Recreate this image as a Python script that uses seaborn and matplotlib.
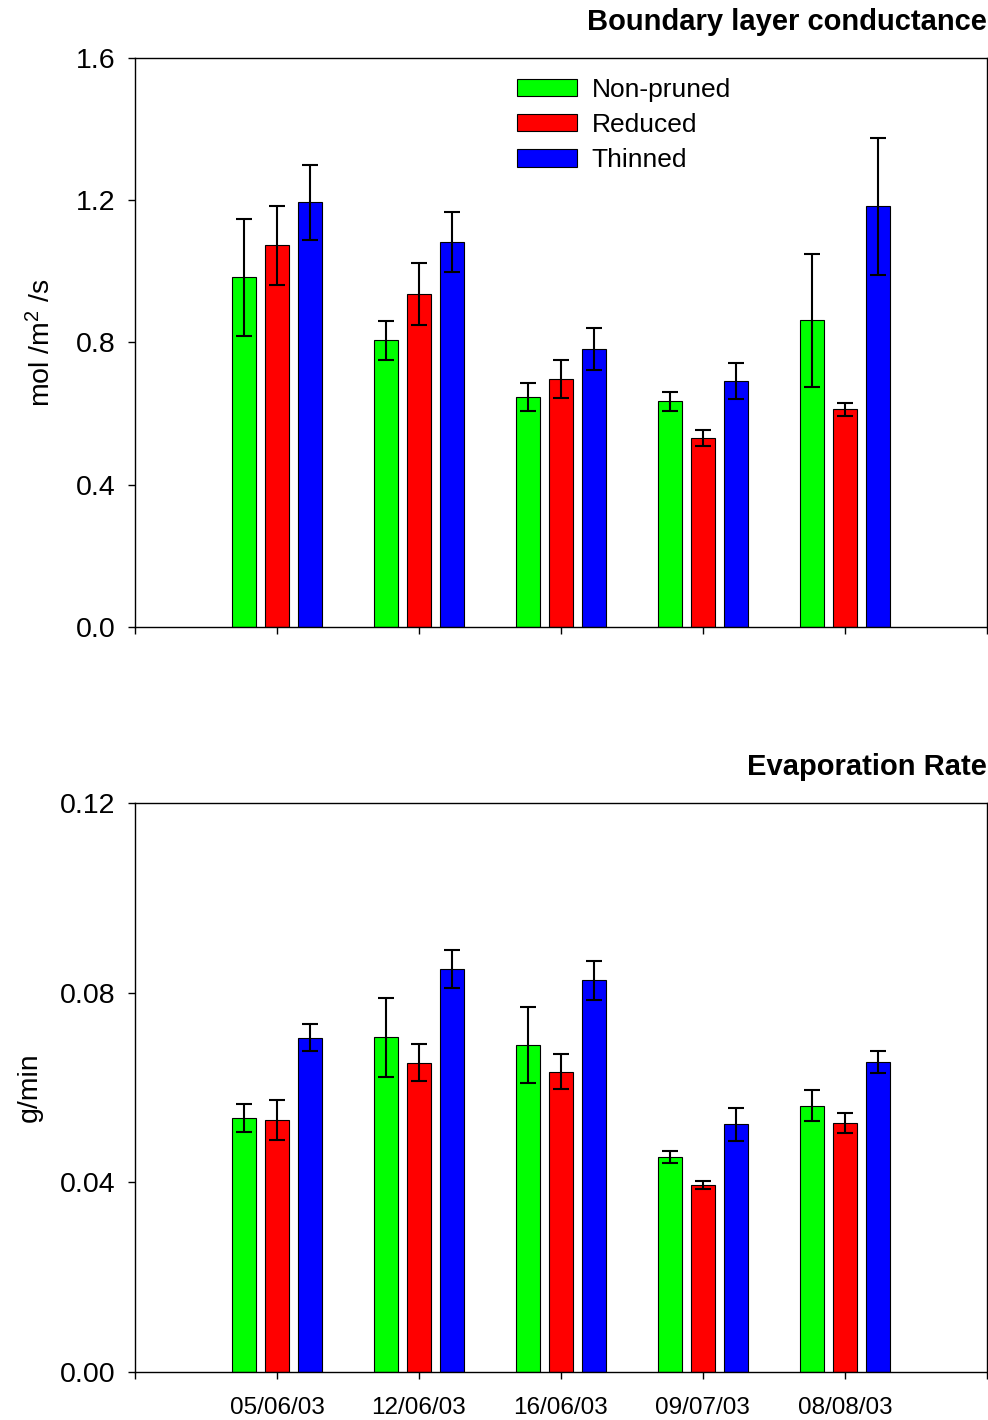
import numpy as np
import pandas as pd
import matplotlib
matplotlib.use("Agg")
import matplotlib.pyplot as plt
import seaborn as sns

dates = ["05/06/03", "12/06/03", "16/06/03", "09/07/03", "08/08/03"]
treatments = ["Non-pruned", "Reduced", "Thinned"]
colors = ["#00FF00", "#FF0000", "#0000FF"]

# Boundary layer conductance (mol/m2/s)
blc_nonpruned = [0.983, 0.806, 0.646, 0.635, 0.862]
blc_reduced = [1.073, 0.936, 0.697, 0.532, 0.612]
blc_thinned = [1.194, 1.083, 0.781, 0.691, 1.183]
blc_err_nonpruned = [0.165, 0.055, 0.040, 0.027, 0.186]
blc_err_reduced = [0.112, 0.086, 0.053, 0.022, 0.018]
blc_err_thinned = [0.106, 0.085, 0.059, 0.051, 0.192]

# Evaporation rate (g/min)
evap_nonpruned = [0.0536, 0.0706, 0.0690, 0.0453, 0.0562]
evap_reduced = [0.0532, 0.0652, 0.0633, 0.0394, 0.0525]
evap_thinned = [0.0705, 0.0850, 0.0826, 0.0522, 0.0653]
evap_err_nonpruned = [0.0029, 0.0083, 0.0080, 0.0013, 0.0033]
evap_err_reduced = [0.0042, 0.0039, 0.0037, 0.0009, 0.0021]
evap_err_thinned = [0.0028, 0.0041, 0.0041, 0.0035, 0.0023]

sns.set_theme(style="ticks")
plt.rcParams["font.family"] = ["Liberation Sans", "DejaVu Sans"]
plt.rcParams["mathtext.fontset"] = "custom"
plt.rcParams["mathtext.rm"] = "Liberation Sans"
plt.rcParams["mathtext.it"] = "Liberation Sans"
for k in ["text.color", "axes.labelcolor", "xtick.color", "ytick.color",
          "axes.edgecolor"]:
    plt.rcParams[k] = "black"


def long_df(vals, errs):
    rows = []
    for t, v, e in zip(treatments, vals, errs):
        for d, vi, ei in zip(dates, v, e):
            rows.append({"date": d, "treatment": t, "value": vi, "err": ei})
    return pd.DataFrame(rows)


df_blc = long_df([blc_nonpruned, blc_reduced, blc_thinned],
                 [blc_err_nonpruned, blc_err_reduced, blc_err_thinned])
df_evap = long_df([evap_nonpruned, evap_reduced, evap_thinned],
                  [evap_err_nonpruned, evap_err_reduced, evap_err_thinned])

fig = plt.figure(figsize=(9.88, 14.2), dpi=100)
ax1 = fig.add_axes([0.1366, 0.5585, 0.8623, 0.4007])
ax2 = fig.add_axes([0.1366, 0.0338, 0.8623, 0.4007])


def draw(ax, df, show_legend):
    sns.barplot(data=df, x="date", y="value", hue="treatment",
                order=dates, hue_order=treatments, palette=colors,
                width=0.7, gap=0.286, edgecolor="black", linewidth=0.8,
                errorbar=None, saturation=1, legend=show_legend, ax=ax)
    for cont, t in zip(ax.containers, treatments):
        sub = df[df["treatment"] == t].set_index("date").loc[dates]
        xs = [p.get_x() + p.get_width() / 2 for p in cont.patches]
        ax.errorbar(xs, sub["value"].values, yerr=sub["err"].values,
                    fmt="none", ecolor="black", elinewidth=1.5,
                    capsize=5.7, capthick=1.5, zorder=5)
    ax.set_xlim(-1, 5)
    ax.set_xticks(range(-1, 6))
    for s in ax.spines.values():
        s.set_visible(True)
        s.set_linewidth(1.0)
        s.set_color("black")
    ax.tick_params(axis="both", direction="out", length=5, width=1.0,
                   color="black", labelcolor="black")
    ax.tick_params(axis="y", labelsize=20.5, pad=9)
    ax.tick_params(axis="x", labelsize=17.5, pad=13)
    ax.set_xlabel("")


draw(ax1, df_blc, True)
draw(ax2, df_evap, False)

ax1.set_xticklabels([""] * 7)
ax2.set_xticklabels([""] + dates + [""])

ax1.set_ylim(0, 1.6)
ax1.set_yticks([0, 0.4, 0.8, 1.2, 1.6])
ax1.set_yticklabels(["0.0", "0.4", "0.8", "1.2", "1.6"])
ax2.set_ylim(0, 0.12)
ax2.set_yticks([0, 0.04, 0.08, 0.12])
ax2.set_yticklabels(["0.00", "0.04", "0.08", "0.12"])

ax1.set_ylabel("mol /m$^2$ /s", fontsize=20.5, labelpad=14, color="black")
ax2.set_ylabel("g/min", fontsize=20.5, labelpad=12, color="black")

ax1.set_title("Boundary layer conductance", loc="right", fontweight="bold",
              fontsize=21, pad=20, color="black")
ax2.set_title("Evaporation Rate", loc="right", fontweight="bold",
              fontsize=21, pad=20, color="black")

leg = ax1.legend(loc="upper left", bbox_to_anchor=(0.449, 0.965),
                 frameon=False, fontsize=19, handlelength=2.25,
                 handleheight=0.65, handletextpad=0.55, labelspacing=0.42,
                 borderpad=0, borderaxespad=0)
for h in leg.legend_handles:
    h.set_edgecolor("black")
    h.set_linewidth(0.8)
for txt in leg.get_texts():
    txt.set_color("black")

fig.savefig("out.png", dpi=100)
